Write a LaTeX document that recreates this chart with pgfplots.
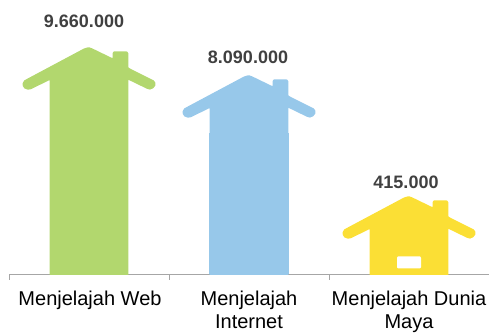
\documentclass[border=0pt]{standalone}
\usepackage{pgfplots}
\usepackage{pgfplotstable}
\usepackage{fontspec}
\setmainfont{Liberation Sans}
\pgfplotsset{compat=1.18}

\definecolor{housegreen}{HTML}{B2D76E}
\definecolor{houseblue}{HTML}{97C8EA}
\definecolor{houseyellow}{HTML}{FBDF35}
\definecolor{valuegrey}{HTML}{404040}
\definecolor{axisgrey}{HTML}{A6A6A6}

% House outline, relative to the peak of the roof; the walls run below the baseline and are clipped there
\pgfplotstableread{
dx dy
0 0
-4 -1.2
-61 -31.6
-63.8 -33.2
-65.4 -36
-65.2 -38.8
-63.4 -41.2
-60 -42.4
-57 -41.9
-38.8 -32.9
-38.3 -33
-38.3 -400
40.3 -400
40.3 -32.4
59 -41.5
62 -42.3
65.2 -41
67.3 -38.3
67.4 -35.5
65.8 -33.2
41 -20.7
40.3 -20
40.3 -6
39.5 -4.6
38 -4
26.5 -4
25.2 -4.6
24.7 -6
24.7 -10.8
23.2 -10.3
4 -1
1.5 -0.1
0 0
}\houseoutline

\begin{document}
\begin{tikzpicture}
\path[use as bounding box] (0pt,0pt) rectangle (489pt,333pt);
\begin{axis}[
  at={(9pt,58.7pt)}, anchor=origin,
  scale only axis, width=480pt, height=274pt,
  xmin=9, xmax=489, ymin=0, ymax=274,
  axis y line=none, axis x line=bottom,
  axis line style={axisgrey, line width=1pt, -},
  xtick={9,169,329,489}, xticklabels={},
  tick style={axisgrey, line width=1pt},
  tick align=outside, major tick length=5.5pt,
  extra x ticks={90,249,409},
  extra x tick labels={{Menjelajah Web},{Menjelajah\\Internet},{Menjelajah Dunia\\Maya}},
  extra x tick style={major tick length=0pt, tick label style={
    align=center, text=black, inner sep=0pt, anchor=north, yshift=-16.5pt,
    font=\fontsize{20}{23}\selectfont}},
  clip=true,
]
% Roof, chimney and walls of each house
\addplot[fill=housegreen, draw=none] table[x expr=\thisrow{dx}+88, y expr=\thisrow{dy}+227] {\houseoutline};
\addplot[fill=houseblue, draw=none] table[x expr=\thisrow{dx}+248, y expr=\thisrow{dy}+199] {\houseoutline};
\addplot[fill=houseblue, draw=none] coordinates {(209.4,0) (209.4,141) (288.8,141) (288.8,0)};
\addplot[fill=houseyellow, draw=none] table[x expr=\thisrow{dx}+408, y expr=\thisrow{dy}+78] {\houseoutline};
% Door opening of the smallest house
\addplot[fill=white, draw=none] coordinates {(397,7) (397,16.5) (398,18) (420,18) (421,16.5) (421,7) (420,6) (398,6)};
% Value labels
\node[font=\fontsize{18}{18}\selectfont\bfseries, text=valuegrey] at (axis cs:84,252.5) {9.660.000};
\node[font=\fontsize{18}{18}\selectfont\bfseries, text=valuegrey] at (axis cs:248,216.5) {8.090.000};
\node[font=\fontsize{18}{18}\selectfont\bfseries, text=valuegrey] at (axis cs:406,91.5) {415.000};
\end{axis}
\end{tikzpicture}
\end{document}
